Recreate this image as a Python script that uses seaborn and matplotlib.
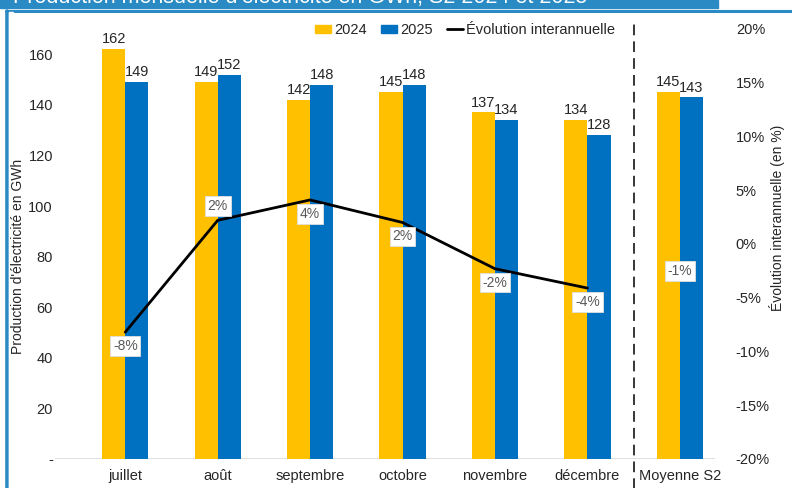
import numpy as np
import pandas as pd
import matplotlib
matplotlib.use("Agg")
import matplotlib.pyplot as plt
from matplotlib.patches import Rectangle, Patch
from matplotlib.lines import Line2D
import seaborn as sns

categories = ["juillet", "août", "septembre", "octobre", "novembre", "décembre", "Moyenne S2"]
prod_2024 = [162, 149, 142, 145, 137, 134, 145]
prod_2025 = [149, 152, 148, 148, 134, 128, 143]
# year-on-year change (%), last entry is the S2 average (label only, no line point)
evolution = [-8.2, 2.2, 4.1, 2.0, -2.3, -4.1, -1.2]
evo_labels = ["-8%", "2%", "4%", "2%", "-2%", "-4%", "-1%"]
label_above = [False, True, False, False, False, False, False]

c2024 = "#FFC000"
c2025 = "#0070C0"
frame_blue = "#2A8AC4"
txt = "#262626"

sns.set_theme(style="white")
plt.rcParams["font.family"] = ["Liberation Sans Narrow", "Liberation Sans", "DejaVu Sans"]

df = pd.DataFrame({
    "mois": categories * 2,
    "annee": ["2024"] * len(categories) + ["2025"] * len(categories),
    "gwh": prod_2024 + prod_2025,
})

fig = plt.figure(figsize=(7.92, 4.88), dpi=100)
ax = fig.add_axes([55 / 792, 1 - 459 / 488, 660 / 792, 430 / 488])

sns.barplot(data=df, x="mois", y="gwh", hue="annee", palette=[c2024, c2025],
            width=0.5, gap=0, saturation=1, linewidth=0, ax=ax, legend=False)
for cont in ax.containers:
    ax.bar_label(cont, fmt="%d", fontsize=10.5, color=txt, padding=2)

ax.set_ylim(0, 170)
ax.set_xlim(-0.76, 6.38)
ax.set_yticks(range(0, 161, 20))
ax.set_yticklabels(["-"] + [str(v) for v in range(20, 161, 20)])
ax.set_xlabel("")
ax.set_ylabel("")
ax.tick_params(axis="y", length=0, labelsize=10.5, colors=txt, pad=1.5)
ax.tick_params(axis="x", length=0, labelsize=10.5, colors=txt, pad=7)
for s in ax.spines.values():
    s.set_visible(False)
ax.axhline(0, color="#D9D9D9", lw=1.2, zorder=0)
ax.axvline(5.5, ymin=-0.075, ymax=1.02, color="black", lw=1.1,
           dashes=(7, 4), clip_on=False)

ax2 = ax.twinx()
n = len(categories) - 1
sns.lineplot(x=np.arange(n), y=evolution[:n], color="black", lw=2, ax=ax2)
ax2.set_ylim(-20, 20)
ax2.set_yticks(range(-20, 21, 5))
ax2.set_yticklabels([f"{v}%" for v in range(-20, 21, 5)])
ax2.tick_params(axis="y", length=0, labelsize=10.5, colors=txt, pad=15)
for s in ax2.spines.values():
    s.set_visible(False)
for i, (v, lab, up) in enumerate(zip(evolution, evo_labels, label_above)):
    ax2.annotate(lab, (i, v), xytext=(0, 10.5 if up else -10), textcoords="offset points",
                 ha="center", va="center", fontsize=10, color="#595959",
                 bbox=dict(boxstyle="square,pad=0.2", fc="white", ec="#E0E0E0", lw=0.6),
                 zorder=5)

handles = [Patch(color=c2024), Patch(color=c2025), Line2D([], [], color="black", lw=2)]
fig.legend(handles, ["2024", "2025", "Évolution interannuelle"], loc="center",
           bbox_to_anchor=(465 / 792, 1 - 30 / 488), ncol=3, frameon=False,
           fontsize=10.5, handlelength=1.1, handleheight=0.5, handletextpad=0.2,
           columnspacing=1.0)

fig.text(18 / 792, 1 - 256 / 488, "Production d'électricité en GWh", rotation=90,
         ha="center", va="center", fontsize=10, color=txt)
fig.text(777 / 792, 1 - 218 / 488, "Évolution interannuelle (en %)", rotation=90,
         ha="center", va="center", fontsize=10, color=txt)

# slide frame and title banner (title cut off at the top edge)
fig.patches.append(Rectangle((8.5 / 792, 0), 4.5 / 792, 1 - 12 / 488,
                             transform=fig.transFigure, color="white", zorder=3))
fig.patches.append(Rectangle((0, 1 - 8 / 488), 718 / 792, 8 / 488,
                             transform=fig.transFigure, color=frame_blue, zorder=0))
fig.text(13 / 792, 1 - 3.5 / 488,
         "Production mensuelle d'électricité en GWh, S2 2024 et 2025",
         ha="left", va="baseline", fontsize=15.5, color="white")
fig.lines.append(Line2D([6 / 792, 1], [1 - 11 / 488] * 2, transform=fig.transFigure,
                        color=frame_blue, lw=2.2))
fig.lines.append(Line2D([7 / 792] * 2, [0, 1 - 11 / 488], transform=fig.transFigure,
                        color=frame_blue, lw=2.6))

fig.savefig("out.png", dpi=100)
